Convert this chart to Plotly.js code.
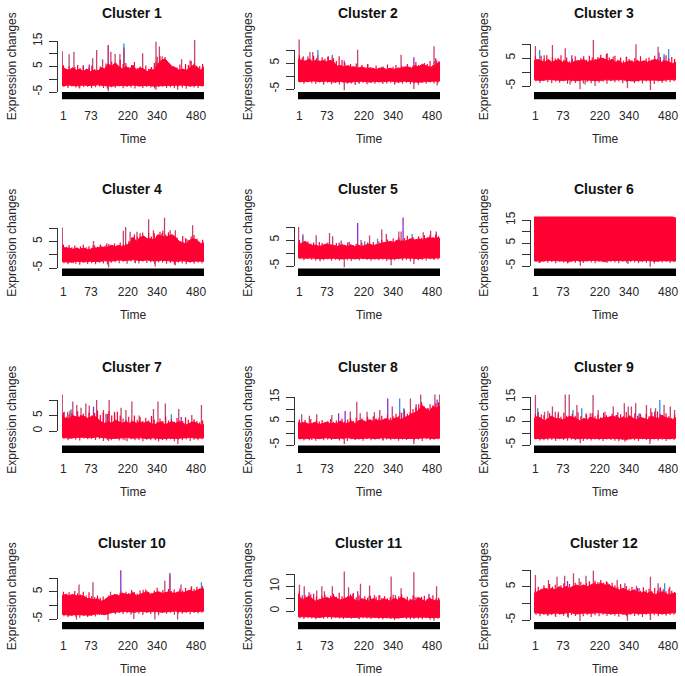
<!DOCTYPE html>
<html><head><meta charset="utf-8">
<script src="https://cdn.plot.ly/plotly-3.0.1.min.js"></script>
<style>html,body{margin:0;padding:0;background:#fff}#c{width:685px;height:676px}</style>
</head><body><div id="c"></div>
<script>
const timeTickPos=[5,102,232,335,472];
const timeTickText=['1','73','220','340','480'];

// upper envelope of the dense band
const top1=[5,4,3.5,4.5,3.5,4,3,4,3,3.5,3,4.5,4,6,5,6.5,5,4,5,4,5.5,3.5,4.5,4,3,4,3.5,6,7.5,8,6.5,5,4.5,3.5,4,3.5,4.5,5.5,5,3.5,5];
const top2=[6.5,6,5.5,6.5,5.5,6,5.5,6,5.5,6,5.5,3.8,4,3.5,4,3.5,3.5,3,3.5,3,3,3,2.5,3,3,2.5,3,2.5,3,3,3.5,3.5,3,4,3.5,4.5,4,3.5,3.5,4.5,5.5];
const top3=[4,4.5,4,3.5,4.5,3.5,4,4.5,3.5,4,3,3.5,4,4,4.5,3.5,4,4,4.5,5,4.5,4,4.5,3.5,4,3,3.5,4,3.5,4,3.5,4,3.5,4,4.5,4,3.5,4,3.5,3,3.5];
const top4=[3,2.5,2.5,2,2.5,2,2.5,2,2,2.5,2.5,3,2.5,3,3.5,3,3.5,3,3.5,4,6.5,5,6.5,7,6,6,5.5,7.5,7,6.5,7,7.5,6.5,5,4.5,4,5.5,6,5.5,4,4.5];
const top5=[4,3.5,4.5,3.5,3,3,2.5,3,3.5,3,3,2.5,3,3,2.5,3,2.5,3,2.5,3,3.5,3,3,3.5,4,4,4.5,4,5,4.5,4.5,5,5.5,5,5.5,5,5.5,6,5.5,6,5.5];
const top6=[16.3,16.3,16.3,16.3,16.3,16.3,16.3,16.3,16.3,16.3,16.3,16.3,16.3,16.3,16.3,16.3,16.3,16.3,16.3,16.3,16.3,16.3,16.3,16.3,16.3,16.3,16.3,16.3,16.3,16.3,16.3,16.3,16.3,16.3,16.3,16.3,16.3,16.3,16.3,16.3,15.8];
const top7=[5,4,4,5,4.5,4.5,5,4,4.5,5,4,3,2.5,3,2.5,3.5,3,2.5,3,2.5,3,2.5,3,2.5,3,2.5,2,2.5,3,2,2.5,3,2.5,3,2.5,2,2.5,3,2.5,2,2];
const top8=[4.5,4,4.5,3.5,4,4.5,3.5,4,4.5,4,4,4,5,4,4,5,4,5,5.5,4.5,5.5,5,5.5,5,5.5,6,5,6,6.5,5.5,6.5,7,8,8.5,9.5,11.5,10,9,11,10.5,11];
const top9=[6,7,6,5,6,7,6,6,5.5,6,7,6.5,6,5,6,5.5,6.5,6,5.5,6,6.5,6.5,7,6.5,6,6.5,6,7,6,5.5,6.5,6,5.5,7,6.5,6,7.5,6.5,6,5.5,6.5];
const top10=[3.5,4,3.5,4,3.5,3.5,3.5,2.5,2.5,2,2.5,1.5,2,3,3.5,4,3.5,4.5,4,4,4.5,3.5,4,4.5,5,4,4.5,5,4.5,4.5,5,4.5,4.5,5,4.5,5,5.5,5,5.5,6,6];
const top11=[7,4.5,5,6,5,4,4.5,5,5.5,5,6,5,4.5,5,5.5,6,4.5,4,5,4.5,4,5,4.5,4,5,4.5,4,5,4.5,5.5,5,4,4.5,4,5.5,4.5,4,5,4.5,4,4.5];
const top12=[3,3.5,4,4.5,4,4.5,4,5,4.5,5,4.5,5,5.5,5,5.5,5,5.5,6,5.5,6,5.5,5.5,5,4.5,4,4.5,4,3.5,4,3.5,3,3.5,3,3.5,2.5,3,3.5,3,2.5,3,3];

// lower envelope of the dense band
const bot1=[-2.5,-2.3,-2.6,-2.3,-2.5,-2.2,-2.5,-2.7,-2.4,-2.5,-2.3,-2.6,-2.4,-2.7,-2.5,-2.4,-2.5,-2.3,-2.6,-2.4,-2.5];
const bot2=[-2,-2.2,-1.9,-2.1,-2,-2.3,-2.1,-2.4,-2.2,-2,-2.3,-2.1,-2.2,-1.9,-2.3,-2,-2.2,-2.4,-2.1,-2,-1.9];
const bot3=[-2.8,-3,-2.7,-2.9,-3,-2.8,-3.1,-2.8,-2.9,-3.1,-2.8,-2.9,-2.7,-3,-3.2,-2.9,-2.8,-2.9,-3,-2.7,-2.8];
const bot4=[-2.6,-2.8,-2.5,-2.7,-2.5,-2.6,-2.3,-2.4,-2,-2.2,-1.9,-2.2,-2,-2.4,-2.1,-2.3,-2.5,-2.3,-2.6,-2.4,-2.5];
const bot5=[-1.8,-2,-1.9,-2.2,-2.1,-2,-2.3,-2,-2.2,-2,-2.1,-2.2,-2,-2.3,-2.1,-1.9,-2,-2.2,-1.9,-2,-1.8];
const bot6=[-2.7,-2.9,-2.6,-2.8,-2.7,-2.9,-2.6,-2.8,-2.5,-2.7,-2.9,-2.6,-2.8,-2.7,-2.5,-2.8,-2.6,-2.9,-2.7,-2.6,-2.8];
const bot7=[-2,-2.3,-2.1,-2,-2.2,-1.9,-2.2,-2.4,-2.3,-2.1,-2.3,-2.2,-2.4,-2.2,-2.5,-2.3,-2.4,-2.3,-2.1,-2.3,-2.2];
const bot8=[-2.2,-2.4,-2.1,-2.3,-2,-2.3,-2.2,-2,-2.4,-2.2,-2.1,-2.3,-2,-2.2,-2.3,-2.1,-2.3,-2.2,-2,-2.3,-2.1];
const bot9=[-2.2,-2.4,-2.1,-2.3,-2.2,-2,-2.4,-2.2,-2.3,-2.1,-2.3,-2.2,-2.5,-2.6,-2.2,-2.3,-2.1,-2.3,-2.2,-2.4,-2.1];
const bot10=[-3.3,-3.6,-3.4,-3.5,-3.6,-3,-3.4,-2.6,-2.4,-2.2,-2.5,-2.2,-2.4,-2.2,-2.5,-2.3,-2.1,-2.4,-2.2,-2.3,-2.1];
const bot11=[-2.3,-2.5,-2.4,-2.6,-2.2,-2.4,-2.5,-2.3,-2.6,-2.4,-2.5,-2.3,-2.6,-2.7,-2.8,-2.5,-2.4,-2.6,-2.5,-2.7,-2.5];
const bot12=[-2.8,-3,-3.2,-2.9,-3.1,-2.7,-3.2,-2.9,-3,-2.8,-3,-3.1,-3,-3.3,-2.9,-3.1,-3,-2.9,-3.1,-3,-2.8];

// short peaks along the upper edge of the band, one every 10 time points
const rim1=[5.5,4,5,3.5,4.8,5.6,4.2,5.2,3.8,4.6,5.4,4,3.6,5,4.4,6.2,5,7,6,5.2,7.6,6,6.4,4.8,5.6,6.8,4.4,5,4.2,5.4,4,4.8,6.4,8.8,9,7.4,6.2,5.4,4.2,5,4.6,5.8,4,6,5.6,7.2,6.2,4.6,5.2,6];
const rim2=[8,7,6.2,7.5,6.4,7.8,6.8,6,7.2,6.6,7.4,6,6.8,5.8,7.6,6.2,5,3.8,4.6,3.6,4.8,3.4,4.2,3.2,4.6,3.4,3,4,3.2,3.6,2.8,4.4,3,3.6,4.2,3.2,3.8,3,4.6,3.4,4,5.4,4.2,3.8,5,4.6,5.8,4.2,6.8,5.6];
const rim3=[5.6,4.4,5.8,4.6,6,4.2,5.4,4.8,5,6,4.4,5.2,3.8,4.6,5.6,4.2,5,5.6,4.4,5.8,5.2,4.6,5.4,6.2,5,6.4,5.2,4.6,5.8,4.4,5.2,4,5.4,4.6,4.2,5,4.4,5.6,4,4.8,5.2,4.4,5.8,4.6,5.4,4.2,6,4.8,5.4,4.6];
const rim4=[3.8,3,3.6,2.8,3.4,2.6,3.2,3.8,2.8,3.2,2.6,3.4,3,3.8,3,3.6,4,3.2,4.2,3.4,4.6,3.8,4.2,5,6.4,7.6,6.8,8,7,6.2,8.2,6.8,8,7.2,8.6,9,7.6,8.4,6,5.2,6.4,4.8,7,6.2,5.4,6.8,7.4,6,4.8,5.6];
const rim5=[5,4.2,3.6,4.4,3.6,4,3.2,4.2,3.8,3.2,4,3.4,3,3.8,3.2,3.6,3,4,3.4,3,3.6,2.8,3.8,3.2,4,3.4,4.2,3.6,4.4,5,4.2,5.2,4.6,5.6,4.8,6,5.2,5.8,6.6,5.6,6.2,5.2,6.4,5.8,6.8,6,7,6.2,7.2,6.4];
const rim6=[];
const rim7=[6,4.6,5.4,5.8,4.8,6.4,5.2,5.6,4.6,6,5,5.8,6.6,5.2,6,5.6,6.4,5,5.8,6.2,5,4,3.6,4.6,3.4,5,3.6,4.4,3.2,4.2,3.4,4.8,3.6,3,4,3.2,4.6,3.4,3.8,3,4.2,3.4,3.2,4.4,3.6,3,3.8,3.2,2.8,3.4];
const rim8=[5.6,4.6,5.4,4.2,5.8,4.4,5.2,4.8,5.4,4.2,5,5.8,4.6,5.2,5,6,4.8,5.6,6.2,5,6.4,5.4,6,5.2,6.8,5.6,7,6,6.4,7.2,6,7.6,6.4,7,8,7.2,8.4,9.4,8,8.6,10,10.6,12,12.8,11,10.4,12,11.6,12.4,12.8];
const rim9=[7.8,8.6,6.6,7.4,6,8.2,7,6.4,7.8,6.8,8.4,7.2,6.4,8,7.2,8.6,7,6.2,7.6,6.6,8.2,7,7.6,6.6,8.4,7.4,6.8,8,7.2,8.6,7.8,7,8.8,7.4,6.6,8.2,7.2,7.8,6.4,8,7,8.6,7.6,9,7.8,6.8,8.2,7,6.2,7.6];
const rim10=[5,4.2,4.8,3.8,5.2,4.4,4,5,3.6,4.8,3.4,3,3.6,2.8,3.2,2.6,3.6,3,2.8,4,4.6,3.8,5,4.4,5.6,4.8,4.2,5.4,4.6,5.8,4.8,4.4,5.4,6.4,5,5.6,4.8,6,5.2,5.8,5,6.2,5.4,6.4,5.6,6.6,6,6.8,6.2,7];
const rim11=[8,5.6,6.4,5.4,6.8,7,5.8,5,6,6.6,5.4,6.2,7,5.8,7.4,6,5.4,6,6.8,7.2,5.6,6.4,5,6,5.4,6.2,5,5.8,6.4,5.2,6,5.2,5.8,6.6,5.4,6,6.8,5.2,5.8,5,6.4,5.6,5,5.8,6.2,5,5.6,6.4,5,5.4];
const rim12=[4.2,5,4.4,5.4,4.6,5.8,5,5.6,4.8,5.4,6,5.2,5.8,5.2,6.2,5.4,6.4,5.6,6,6.6,5.6,6.8,6.4,7,6.2,6.6,5.8,6.2,5.4,5,5.8,4.6,5.2,4.4,5,4.2,4.6,3.8,4.8,4,4.4,3.6,4.6,3.8,4.8,4.2,3.6,4.4,3.8,3.4];

// short drops along the lower edge of the band
const low1=[-3,-3.4,-2.8,-3.2,-3.6,-3,-2.9,-3.5,-3.1,-2.8,-3.4,-3.7,-3.1,-3.3,-2.8,-3.5,-3,-3.2,-3.6,-2.9,-3.4,-3,-3.2,-3.6,-3,-2.9,-3.4,-3.1,-3.5,-2.8,-3.3,-3.7,-3,-3.2,-3.4,-2.9];
const low2=[-2.6,-3,-2.4,-2.8,-3.1,-2.5,-2.9,-2.6,-3.2,-2.7,-3.3,-2.6,-3,-2.9,-3.5,-2.8,-2.6,-3.2,-2.7,-3,-2.5,-3.1,-2.9,-2.6,-3.3,-2.7,-3,-2.6,-3.2,-2.8,-3.4,-2.7,-3,-2.5,-2.9,-2.6];
const low3=[-3.4,-3.9,-3.2,-3.7,-4,-3.4,-3.8,-3.3,-4.2,-3.5,-3.9,-3.3,-4.1,-3.6,-4,-3.4,-3.8,-3.5,-4.2,-3.3,-3.7,-3.4,-4,-3.6,-3.3,-3.9,-3.5,-4.1,-3.4,-3.8,-4.3,-3.4,-3.9,-3.5,-3.7,-3.3];
const low4=[-3.2,-3.6,-3.1,-3.4,-3.8,-3,-3.5,-3.2,-3.6,-3,-3.3,-3.7,-3,-2.8,-3.2,-2.7,-3.4,-2.6,-3,-3.3,-2.7,-3.1,-2.8,-3.5,-2.9,-3,-3.4,-3.1,-3.7,-2.9,-3.3,-3.6,-3,-3.4,-3,-3.2];
const low5=[-2.4,-2.8,-2.3,-2.7,-3,-2.5,-2.8,-2.4,-3,-2.6,-2.9,-2.5,-2.8,-3.1,-2.5,-2.9,-2.4,-2.7,-3,-2.5,-2.8,-2.6,-3.1,-2.5,-2.8,-2.4,-2.9,-2.6,-3.2,-2.5,-2.8,-2.6,-2.9,-2.4,-2.7,-2.5];
const low6=[-3.3,-3.7,-3.2,-3.6,-3.3,-3.8,-3.2,-3.5,-3.9,-3.1,-3.6,-3.3,-3.7,-3.2,-3.5,-3.8,-3.2,-3.4,-3.7,-3.1,-3.5,-3.8,-3.2,-3.6,-3.3,-3.4,-3.8,-3.2,-3.6,-3.1,-3.9,-3.3,-3.5,-3.2,-3.7,-3.3];
const low7=[-2.6,-3,-2.5,-2.8,-3.1,-2.4,-2.7,-2.5,-2.9,-2.6,-3.2,-2.8,-3,-2.6,-3.1,-2.8,-3.3,-2.7,-3,-2.9,-3.3,-2.8,-3,-2.7,-3.4,-2.9,-3.1,-2.7,-3.3,-2.8,-3,-2.7,-3.2,-2.8,-3,-2.7];
const low8=[-2.7,-3.1,-2.5,-2.9,-3.2,-2.6,-3,-2.7,-2.9,-2.5,-3.1,-2.7,-3.3,-2.6,-2.9,-2.7,-3.2,-2.5,-3,-2.8,-2.6,-3.1,-2.7,-3,-2.6,-3.2,-2.7,-2.9,-2.5,-3.1,-2.7,-3.3,-2.6,-3,-2.8,-2.6];
const low9=[-2.7,-3.1,-2.6,-3,-2.8,-3.3,-2.6,-2.9,-3.2,-2.7,-3,-2.6,-3.3,-2.8,-3.1,-2.7,-3,-3.3,-2.7,-2.9,-3.2,-3.4,-2.8,-3.1,-2.7,-3,-3.3,-2.6,-2.9,-3.2,-2.7,-3.1,-2.8,-3.3,-2.6,-2.9];
const low10=[-4,-4.4,-3.9,-4.2,-4.5,-3.9,-4.3,-3.8,-4.1,-3.5,-3.1,-3.5,-2.9,-3.3,-2.8,-3.2,-2.9,-3.4,-2.8,-3.1,-3.5,-2.8,-3.2,-2.9,-3.6,-2.8,-3.1,-2.7,-3.4,-2.9,-3.1,-2.7,-3.3,-2.8,-3,-2.7];
const low11=[-2.9,-3.2,-2.7,-3,-3.3,-2.8,-3.1,-2.9,-3.3,-2.7,-3,-3.2,-2.8,-3.1,-2.7,-3.3,-2.9,-3,-3.2,-2.8,-3.1,-3.4,-2.9,-3.2,-3.5,-3,-2.8,-3.2,-3.4,-2.9,-3.1,-3.3,-2.9,-3.5,-3,-3.1];
const low12=[-3.5,-3.9,-3.4,-3.8,-3.5,-4.1,-3.4,-3.7,-4,-3.5,-3.8,-3.3,-3.9,-3.5,-4.1,-3.6,-3.9,-3.4,-3.8,-3.5,-3.7,-4,-3.5,-3.9,-3.4,-3.8,-3.6,-4.1,-3.4,-3.8,-3.5,-3.9,-3.4,-3.7,-3.5,-3.4];

// red-crimson peaks: index and height
const peakX1=[1,25,42,108,122,143,163,172,187,204,218,284,331,343,353,363,421,451,467];
const peakY1=[11,9.8,10.8,8.2,11.5,7.8,13,10.8,9.9,9.9,12,10.2,14.7,12.8,9,8.7,7.8,7.5,15.4];
const peakX2=[4,19,42,52,70,107,121,210,246,363,479];
const peakY2=[14,7.6,9.2,9.2,8,7.6,7.5,10.1,4.5,8.2,11.4];
const peakX3=[5,36,65,110,209,258,279,326,359,425,437];
const peakY3=[9.3,6,9.6,8.5,11.4,6.7,5.5,5.5,9.9,4.5,9];
const peakX4=[1,111,158,216,224,240,264,284,305,322,361,381,399,460];
const peakY4=[10.2,5.1,4.3,9,10.4,8.6,8.6,8.3,13.3,9.2,13.8,9.2,9.2,11];
const peakX5=[2,17,64,111,122,152,222,252,295,311,355,363,441,467,487];
const peakY5=[10,6.5,6.8,7.7,6.4,4.8,5,6.7,9,7.3,8.3,8.3,8,8.6,8.3];
const peakX6=[];
const peakY6=[];
const peakX7=[1,8,20,28,38,52,67,84,96,122,146,166,185,208,225,246,272,322,338,364,411,457,491];
const peakY7=[11.8,6.2,6.2,6.5,9.5,8.4,7.5,8.9,8.2,10,6.8,10,6.2,7.5,6.8,9.5,5,7.1,9.5,8.9,7.1,5.2,8.4];
const peakX8=[13,40,66,119,184,207,219,243,269,288,332,358,396,416,432,459,482,499];
const peakY8=[7.8,7.2,7.8,7.5,9,13,8.2,8.9,8.6,9.6,11,9,14.4,10.5,16,10.3,16,16];
const peakX9=[5,26,37,49,65,75,86,110,124,151,183,198,208,226,250,279,297,318,332,343,358,396,411,428,458,480,495];
const peakY9=[15.8,7.8,8.9,9.2,11,8.9,8.9,16,16,11.7,8.2,8.2,15.8,9.6,8.9,11,6.8,12.4,11,11,12.4,11.7,10.3,10.3,11.7,11,9.6];
const peakX10=[60,109,171,207,286,362,380,419,456];
const peakY10=[7.6,8.4,5,5.5,5.7,9,11,7.6,7];
const peakX11=[5,22,66,84,93,121,163,178,193,210,220,252,269,288,328,343,363,408,420,488];
const peakY11=[10.6,10,8.3,10,8,10,16,9.6,7,7,11,10.3,6.5,6.5,14,6.5,9.2,15.7,5.6,10];
const peakX12=[5,51,81,108,139,159,183,209,232,258,293,320,361,410,437,478];
const peakY12=[8.5,7,8,8.3,9,7.5,8.3,9.8,6.3,6.3,7,6,5.3,8,6,5];

// tips of other series seen above the red: purple, then blue
const tipX1=[163,218,75,96,331];
const tipY1=[13.4,12.5,5.5,5.8,7];
const tipX2=[163,408,488,479];
const tipY2=[5.9,7.2,6,5.5];
const tipX3=[133,440,458];
const tipY3=[6,7,5.5];
const tipX4=[352,150,110,400,440];
const tipY4=[8,3.2,3.6,6,5.8];
const tipX5=[210,370,180,145];
const tipY5=[11.5,13.7,4.3,4];
const tipX6=[499];
const tipY6=[16];
const tipX7=[111,160,322,420];
const tipY7=[7.8,5.5,4.5,4.5];
const tipX8=[143,166,316,373,416,490];
const tipY8=[8.2,9.2,14.4,10,12,14];
const tipX9=[60,290,370,425];
const tipY9=[7,7.5,8,9];
const tipX10=[207,380,250];
const tipY10=[12.8,11.8,5];
const tipX11=[39,461,408,210];
const tipY11=[7.6,7,6,8];
const tipX12=[118,260,370,440];
const tipY12=[6.7,6,4.5,4.5];
const coolX1=[218,370];
const coolY1=[14,5];
const coolX2=[70,121,300];
const coolY2=[10,8.2,3.7];
const coolX3=[20,458,474];
const coolY3=[7.9,6.4,8.2];
const coolX4=[];
const coolY4=[];
const coolX5=[17,402,235,280];
const coolY5=[7.3,7.3,4.5,5.5];
const coolX6=[];
const coolY6=[];
const coolX7=[32,385];
const coolY7=[7,5.4];
const coolX8=[358,373];
const coolY8=[14.4,10.3];
const coolX9=[13,137,168,373,443];
const coolY9=[10.3,9.6,10.3,8.2,13.75];
const coolX10=[491];
const coolY10=[8.4];
const coolX11=[15,250];
const coolY11=[6.5,6];
const coolX12=[460];
const coolY12=[6];

// downward excursions: index and depth
const dipX1=[163,331,407,60];
const dipY1=[-4.7,-4.1,-4.1,-3.3];
const dipX2=[163,408,90,215,340,490];
const dipY2=[-5.5,-5,-3.4,-3,-3.2,-3.7];
const dipX3=[162,410,329,215,127,180];
const dipY3=[-6.2,-6.4,-5.8,-5,-4.5,-4.5];
const dipX4=[164,328,399,258,40];
const dipY4=[-4.8,-4.4,-4,-3.2,-3.2];
const dipX5=[163,328,408,78];
const dipY5=[-5.5,-4.7,-4.2,-3.2];
const dipX6=[163,331,409,18,123,250];
const dipY6=[-4.9,-4.1,-5.3,-3.7,-3.6,-3.4];
const dipX7=[408,222,164,330];
const dipY7=[-4.2,-3,-3.2,-3];
const dipX8=[163,408,40,300];
const dipY8=[-4.6,-4.6,-3,-3];
const dipX9=[163,408,320,35];
const dipY9=[-4.3,-4.6,-3.6,-3];
const dipX10=[51,162,253,327,407,125];
const dipY10=[-5.2,-5.5,-5,-5.2,-5.2,-3.5];
const dipX11=[340,479,213,408];
const dipY11=[-3.3,-4,-3,-3.2];
const dipX12=[162,329,410,121,75];
const dipY12=[-5.3,-5.2,-5,-4.3,-3.7];

const titles=['Cluster 1','Cluster 2','Cluster 3','Cluster 4','Cluster 5','Cluster 6','Cluster 7','Cluster 8','Cluster 9','Cluster 10','Cluster 11','Cluster 12'];
const tickVals=[[-5,0,5,10,15],[-5,0,5,10],[-5,0,5,10],[-5,0,5,10],[-5,0,5,10],[-5,0,5,10,15],[0,5,10],[-5,0,5,10,15],[-5,0,5,10,15],[-5,0,5,10],[0,5,10,15],[-5,0,5,10]];
const tickText=[['-5','','5','','15'],['-5','','5',''],['-5','','5',''],['-5','','5',''],['-5','','5',''],['-5','','5','','15'],['0','5',''],['-5','','5','','15'],['-5','','5','','15'],['-5','','5',''],['0','','10',''],['-5','','5','']];

// layout of the 4x3 grid, in page pixels
const W=685,H=676;
const colLeft=[62,298,534], plotW=142;
const colAxis=[57,294,530];
const rowBottom=[99.5,276,453,629.5], regionH=66.5, barH=7.5;
const tickTopPx=[41,50,44,228,227,220,400,397,397,578,574,570];
const tickBotPx=[92,89,86,268,266,266,431,445,445,619,611,620];

const tops=[top1,top2,top3,top4,top5,top6,top7,top8,top9,top10,top11,top12];
const bots=[bot1,bot2,bot3,bot4,bot5,bot6,bot7,bot8,bot9,bot10,bot11,bot12];
const rims=[rim1,rim2,rim3,rim4,rim5,rim6,rim7,rim8,rim9,rim10,rim11,rim12];
const lows=[low1,low2,low3,low4,low5,low6,low7,low8,low9,low10,low11,low12];
const peakXs=[peakX1,peakX2,peakX3,peakX4,peakX5,peakX6,peakX7,peakX8,peakX9,peakX10,peakX11,peakX12];
const peakYs=[peakY1,peakY2,peakY3,peakY4,peakY5,peakY6,peakY7,peakY8,peakY9,peakY10,peakY11,peakY12];
const tipXs=[tipX1,tipX2,tipX3,tipX4,tipX5,tipX6,tipX7,tipX8,tipX9,tipX10,tipX11,tipX12];
const tipYs=[tipY1,tipY2,tipY3,tipY4,tipY5,tipY6,tipY7,tipY8,tipY9,tipY10,tipY11,tipY12];
const coolXs=[coolX1,coolX2,coolX3,coolX4,coolX5,coolX6,coolX7,coolX8,coolX9,coolX10,coolX11,coolX12];
const coolYs=[coolY1,coolY2,coolY3,coolY4,coolY5,coolY6,coolY7,coolY8,coolY9,coolY10,coolY11,coolY12];
const dipXs=[dipX1,dipX2,dipX3,dipX4,dipX5,dipX6,dipX7,dipX8,dipX9,dipX10,dipX11,dipX12];
const dipYs=[dipY1,dipY2,dipY3,dipY4,dipY5,dipY6,dipY7,dipY8,dipY9,dipY10,dipY11,dipY12];

const FONT='"Liberation Sans", Arial, sans-serif', INK='#262626';
const RED='#ff0033', DUSK='#c2466e', LOWRED='#e8204f', PURPLE='#8a2fd0', BLUE='#2f8fe0';
const data=[], layout={width:W,height:H,margin:{l:0,r:0,t:0,b:0},paper_bgcolor:'#fff',plot_bgcolor:'rgba(0,0,0,0)',showlegend:false,annotations:[],font:{family:FONT,size:12,color:INK}};

function segs(xs,ys,base){const x=[],y=[];xs.forEach((v,k)=>{x.push(v,v,null);y.push(base,ys[k],null);});return {x,y};}
function spread(a){return a.map((_,k)=>k*500/(a.length-1));}
function mids(a){return a.map((_,k)=>(k+0.5)*500/a.length);}

titles.forEach((t,i)=>{
  const c=i%3,r=Math.floor(i/3);
  const xn=i+1, yd=2*i+1, yt=2*i+2;
  const xa='x'+(xn===1?'':xn), yda='y'+(yd===1?'':yd), yta='y'+yt;
  const vals=tickVals[i], vMin=vals[0], vMax=vals[vals.length-1];
  const pMin=tickBotPx[i], pMax=tickTopPx[i], ppu=(pMin-pMax)/(vMax-vMin);
  const domB=rowBottom[r], domT=domB-regionH;
  const toVal=p=>vMin+(pMin-p)/ppu;
  const add=(o)=>data.push(Object.assign({xaxis:xa,yaxis:yda,mode:'lines',hoverinfo:'skip'},o));

  add(Object.assign(segs(tipXs[i],tipYs[i],0),{line:{color:PURPLE,width:1.3}}));
  add(Object.assign(segs(coolXs[i],coolYs[i],0),{line:{color:BLUE,width:1.3}}));
  add(Object.assign(segs(peakXs[i],peakYs[i],0),{line:{color:DUSK,width:1.3}}));
  add(Object.assign(segs(dipXs[i],dipYs[i],0),{line:{color:DUSK,width:1.3}}));
  add(Object.assign(segs(mids(rims[i]),rims[i],0),{line:{color:RED,width:1.2}}));
  add(Object.assign(segs(mids(lows[i]),lows[i],0),{line:{color:LOWRED,width:1.2}}));
  add({x:spread(bots[i]),y:bots[i],line:{color:RED,width:1}});
  add({x:spread(tops[i]),y:tops[i],fill:'tonexty',fillcolor:RED,line:{color:RED,width:1}});
  const barY=toVal(domB-barH/2);
  add({x:[0,500],y:[barY,barY],line:{color:'#000',width:barH}});
  data.push({xaxis:xa,yaxis:yta,x:[null],y:[null],mode:'lines',hoverinfo:'skip'});

  layout['xaxis'+(xn===1?'':xn)]={domain:[colLeft[c]/W,(colLeft[c]+plotW)/W],range:[0,500],anchor:yda,
    tickmode:'array',tickvals:timeTickPos,ticktext:timeTickText,ticks:'outside',ticklen:5,tickcolor:'rgba(0,0,0,0)',tickfont:{size:12,color:INK,family:FONT},
    showgrid:false,zeroline:false,showline:false,fixedrange:true,
    title:{text:'Time',font:{size:12,color:INK,family:FONT},standoff:12}};
  layout['yaxis'+(yd===1?'':yd)]={domain:[1-domB/H,1-domT/H],range:[toVal(domB),toVal(domT)],anchor:xa,
    ticks:'',showticklabels:false,showgrid:false,zeroline:false,showline:false,fixedrange:true,
    title:{text:'Expression changes',font:{size:12,color:INK,family:FONT},standoff:41}};
  layout['yaxis'+yt]={domain:[1-pMin/H,1-pMax/H],range:[vMin,vMax],anchor:'free',position:colAxis[c]/W,side:'left',
    tickmode:'array',tickvals:vals,ticktext:tickText[i],ticks:'outside',ticklen:8,tickwidth:1,tickcolor:'#333',tickangle:-90,ticklabelstandoff:2,
    tickfont:{size:12,color:INK,family:FONT},showgrid:false,zeroline:false,showline:true,linecolor:'#333',linewidth:1,fixedrange:true};
  layout.annotations.push({xref:'paper',yref:'paper',x:(colLeft[c]+70)/W,y:1-(domB-86.5)/H,xanchor:'center',yanchor:'middle',showarrow:false,text:'<b>'+t+'</b>',font:{size:14,color:'#111',family:FONT}});
});
Plotly.newPlot('c',data,layout,{displayModeBar:false,staticPlot:true});
</script></body></html>
